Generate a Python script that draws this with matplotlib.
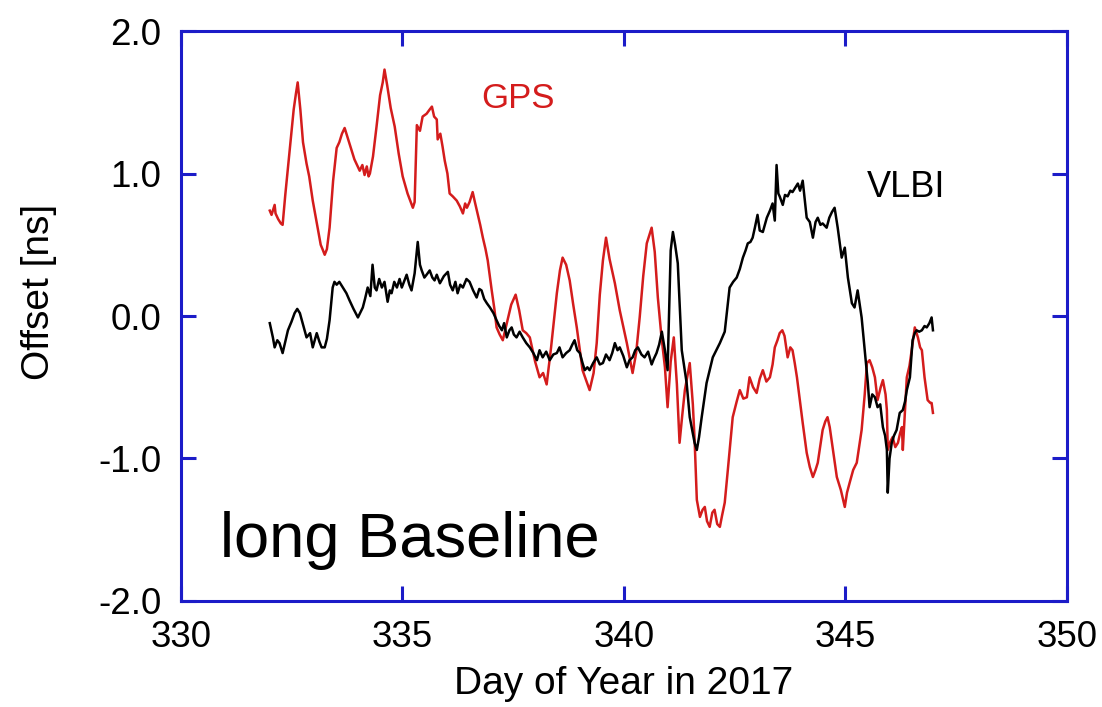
import matplotlib
matplotlib.use("Agg")
import matplotlib.pyplot as plt

# GPS offset (red), day of year vs ns
gps_day = [332.01, 332.05, 332.12, 332.14, 332.20, 332.26, 332.30, 332.36, 332.47, 332.55,
           332.60, 332.64, 332.70, 332.76, 332.84, 332.90, 332.98, 333.08, 333.16, 333.20,
           333.25, 333.30, 333.36, 333.44, 333.52, 333.58, 333.64, 333.70, 333.80, 333.92,
           334.04, 334.10, 334.15, 334.20, 334.24, 334.27, 334.34, 334.42, 334.50, 334.56,
           334.60, 334.66, 334.74, 334.83, 334.92, 335.01, 335.12, 335.24, 335.28, 335.33,
           335.40, 335.46, 335.55, 335.62, 335.67, 335.72, 335.78, 335.80, 335.86, 335.91,
           335.96, 336.02, 336.07, 336.14, 336.23, 336.30, 336.37, 336.42, 336.46, 336.52,
           336.59, 336.64, 336.70, 336.76, 336.82, 336.88, 336.93, 337.02, 337.08, 337.13,
           337.20, 337.27, 337.36, 337.46, 337.56, 337.64, 337.72, 337.80, 337.88, 338.00,
           338.10, 338.18, 338.26, 338.36, 338.49, 338.56, 338.62, 338.70, 338.78, 338.86,
           338.94, 339.07, 339.23, 339.32, 339.39, 339.46, 339.53, 339.60, 339.68, 339.80,
           339.91, 340.07, 340.20, 340.28, 340.36, 340.44, 340.52, 340.63, 340.70, 340.77,
           340.85, 340.93, 340.99, 341.06, 341.13, 341.20, 341.26, 341.32, 341.38, 341.49,
           341.56, 341.60, 341.65, 341.72, 341.78, 341.83, 341.88, 341.94, 342.00, 342.05,
           342.11, 342.17, 342.22, 342.28, 342.35, 342.46, 342.55, 342.62, 342.70, 342.78,
           342.84, 342.92, 343.00, 343.07, 343.14, 343.22, 343.30, 343.36, 343.41, 343.47,
           343.52, 343.58, 343.63, 343.70, 343.76, 343.81, 343.86, 343.91, 344.04, 344.13,
           344.20, 344.27, 344.33, 344.38, 344.49, 344.55, 344.60, 344.65, 344.70, 344.81,
           344.90, 344.99, 345.04, 345.10, 345.18, 345.26, 345.37, 345.44, 345.49, 345.55,
           345.61, 345.67, 345.73, 345.80, 345.85, 345.91, 345.94, 345.96, 346.02, 346.07,
           346.13, 346.19, 346.24, 346.28, 346.30, 346.39, 346.45, 346.50, 346.57, 346.64,
           346.69, 346.73, 346.79, 346.86, 346.92, 346.95, 346.98]
gps_val = [0.74, 0.71, 0.78, 0.72, 0.68, 0.65, 0.64, 0.85, 1.20, 1.45,
           1.56, 1.64, 1.45, 1.22, 1.07, 0.98, 0.81, 0.64, 0.50, 0.47,
           0.43, 0.47, 0.62, 0.95, 1.18, 1.22, 1.28, 1.32, 1.22, 1.10,
           1.02, 1.06, 0.99, 1.05, 0.98, 1.00, 1.12, 1.33, 1.55, 1.64,
           1.73, 1.62, 1.46, 1.33, 1.14, 0.98, 0.86, 0.76, 0.80, 1.34,
           1.30, 1.40, 1.42, 1.45, 1.47, 1.40, 1.38, 1.24, 1.28, 1.19,
           1.09, 1.00, 0.86, 0.84, 0.81, 0.77, 0.72, 0.79, 0.76, 0.80,
           0.87, 0.80, 0.72, 0.64, 0.55, 0.47, 0.39, 0.18, 0.05, -0.08,
           -0.13, -0.17, -0.05, 0.08, 0.15, 0.04, -0.10, -0.12, -0.15, -0.32,
           -0.43, -0.40, -0.48, -0.22, 0.16, 0.32, 0.41, 0.36, 0.25, 0.08,
           -0.08, -0.38, -0.52, -0.40, -0.19, 0.15, 0.39, 0.55, 0.40, 0.23,
           0.04, -0.19, -0.40, -0.26, -0.01, 0.28, 0.51, 0.62, 0.45, 0.13,
           -0.14, -0.36, -0.64, -0.32, -0.15, -0.48, -0.89, -0.70, -0.52, -0.33,
           -0.62, -0.87, -1.29, -1.41, -1.36, -1.34, -1.44, -1.48, -1.38, -1.36,
           -1.46, -1.48, -1.40, -1.31, -1.08, -0.71, -0.60, -0.52, -0.58, -0.57,
           -0.43, -0.50, -0.54, -0.44, -0.38, -0.46, -0.43, -0.34, -0.22, -0.17,
           -0.12, -0.10, -0.14, -0.29, -0.22, -0.24, -0.33, -0.43, -0.75, -0.96,
           -1.06, -1.13, -1.08, -1.03, -0.80, -0.74, -0.71, -0.78, -0.89, -1.13,
           -1.22, -1.34, -1.24, -1.17, -1.08, -1.03, -0.80, -0.55, -0.33, -0.31,
           -0.36, -0.43, -0.59, -0.50, -0.45, -0.55, -0.66, -0.94, -0.88, -0.85,
           -0.92, -0.89, -0.82, -0.78, -0.94, -0.43, -0.35, -0.24, -0.08, -0.15,
           -0.22, -0.24, -0.43, -0.59, -0.61, -0.61, -0.68]

# VLBI offset (black)
vlbi_day = [332.01, 332.08, 332.12, 332.18, 332.23, 332.30, 332.36, 332.42, 332.50, 332.57,
            332.63, 332.69, 332.76, 332.84, 332.92, 332.98, 333.07, 333.13, 333.18, 333.25,
            333.30, 333.36, 333.43, 333.47, 333.52, 333.58, 333.66, 333.74, 333.81, 333.90,
            334.00, 334.11, 334.16, 334.22, 334.28, 334.33, 334.38, 334.42, 334.48, 334.54,
            334.60, 334.67, 334.72, 334.76, 334.82, 334.88, 334.94, 334.99, 335.05, 335.10,
            335.16, 335.21, 335.28, 335.35, 335.40, 335.44, 335.50, 335.55, 335.62, 335.68,
            335.73, 335.78, 335.85, 335.94, 336.03, 336.08, 336.14, 336.20, 336.25, 336.31,
            336.37, 336.45, 336.52, 336.60, 336.68, 336.74, 336.79, 336.85, 336.91, 336.98,
            337.06, 337.13, 337.19, 337.25, 337.30, 337.36, 337.42, 337.47, 337.52, 337.58,
            337.65, 337.72, 337.80, 337.88, 337.96, 338.04, 338.10, 338.17, 338.25, 338.33,
            338.41, 338.49, 338.55, 338.62, 338.70, 338.78, 338.84, 338.89, 338.95, 339.01,
            339.07, 339.12, 339.18, 339.23, 339.31, 339.39, 339.46, 339.53, 339.60, 339.68,
            339.74, 339.80, 339.86, 339.91, 339.99, 340.07, 340.13, 340.20, 340.26, 340.32,
            340.40, 340.47, 340.55, 340.63, 340.68, 340.74, 340.80, 340.86, 340.93, 340.99,
            341.06, 341.11, 341.16, 341.22, 341.31, 341.42, 341.49, 341.60, 341.65, 341.70,
            341.76, 341.87, 342.01, 342.17, 342.28, 342.39, 342.47, 342.55, 342.62, 342.69,
            342.75, 342.80, 342.86, 342.91, 342.96, 343.02, 343.07, 343.14, 343.23, 343.30,
            343.36, 343.41, 343.45, 343.49, 343.52, 343.59, 343.64, 343.70, 343.76, 343.81,
            343.87, 343.93, 343.98, 344.04, 344.13, 344.20, 344.27, 344.33, 344.38, 344.44,
            344.49, 344.58, 344.64, 344.70, 344.76, 344.83, 344.92, 344.99, 345.06, 345.15,
            345.21, 345.28, 345.37, 345.44, 345.51, 345.55, 345.61, 345.67, 345.73, 345.79,
            345.85, 345.90, 345.94, 345.96, 346.00, 346.05, 346.10, 346.16, 346.23, 346.30,
            346.35, 346.39, 346.46, 346.52, 346.57, 346.61, 346.67, 346.73, 346.79, 346.84,
            346.90, 346.95, 346.98]
vlbi_val = [-0.05, -0.15, -0.22, -0.17, -0.19, -0.26, -0.18, -0.10, -0.04, 0.02,
            0.05, 0.02, -0.06, -0.15, -0.12, -0.22, -0.12, -0.18, -0.22, -0.22,
            -0.16, -0.03, 0.20, 0.24, 0.22, 0.24, 0.20, 0.16, 0.11, 0.05,
            -0.01, 0.06, 0.12, 0.20, 0.14, 0.36, 0.20, 0.18, 0.26, 0.20,
            0.24, 0.10, 0.18, 0.16, 0.24, 0.20, 0.26, 0.20, 0.25, 0.29,
            0.22, 0.18, 0.30, 0.52, 0.36, 0.32, 0.27, 0.29, 0.32, 0.27,
            0.25, 0.29, 0.23, 0.28, 0.31, 0.22, 0.18, 0.24, 0.16, 0.22,
            0.20, 0.26, 0.24, 0.18, 0.13, 0.19, 0.18, 0.12, 0.09, 0.06,
            0.02, -0.03, -0.07, -0.10, -0.05, -0.15, -0.10, -0.08, -0.13, -0.15,
            -0.11, -0.15, -0.19, -0.22, -0.26, -0.31, -0.24, -0.29, -0.25, -0.31,
            -0.27, -0.26, -0.22, -0.29, -0.26, -0.24, -0.20, -0.17, -0.24, -0.26,
            -0.33, -0.38, -0.36, -0.38, -0.33, -0.29, -0.34, -0.33, -0.27, -0.31,
            -0.26, -0.19, -0.24, -0.22, -0.28, -0.36, -0.31, -0.29, -0.24, -0.22,
            -0.27, -0.29, -0.25, -0.34, -0.30, -0.26, -0.20, -0.11, -0.24, -0.38,
            0.46, 0.59, 0.50, 0.37, -0.24, -0.47, -0.71, -0.89, -0.94, -0.85,
            -0.71, -0.47, -0.29, -0.19, -0.11, 0.20, 0.24, 0.27, 0.33, 0.41,
            0.46, 0.51, 0.52, 0.55, 0.62, 0.71, 0.60, 0.59, 0.69, 0.74,
            0.79, 0.67, 1.06, 0.86, 0.84, 0.78, 0.85, 0.84, 0.88, 0.87,
            0.90, 0.93, 0.88, 0.95, 0.69, 0.66, 0.55, 0.66, 0.69, 0.64,
            0.65, 0.62, 0.69, 0.73, 0.76, 0.62, 0.41, 0.48, 0.27, 0.09,
            0.06, 0.18, -0.01, -0.24, -0.47, -0.64, -0.55, -0.57, -0.64, -0.62,
            -0.78, -0.84, -0.94, -1.24, -1.00, -0.89, -0.84, -0.80, -0.68, -0.66,
            -0.60, -0.52, -0.43, -0.17, -0.12, -0.10, -0.11, -0.10, -0.07, -0.08,
            -0.05, -0.01, -0.10]

x_ticks = [330, 335, 340, 345, 350]
y_ticks = [-2.0, -1.0, 0.0, 1.0, 2.0]
y_tick_labels = ["-2.0", "-1.0", "0.0", "1.0", "2.0"]

plt.rcParams['font.family'] = ['Liberation Sans', 'DejaVu Sans']

frame_blue = '#1c1cc8'
gps_red = '#d41c1c'

fig = plt.figure(figsize=(11.02, 7.07), dpi=100)
ax = fig.add_axes([0.164, 0.150, 0.804, 0.806])

ax.plot(gps_day, gps_val, color=gps_red, linewidth=1.8)
ax.plot(vlbi_day, vlbi_val, color='black', linewidth=1.8)

ax.set_xlim(330, 350)
ax.set_ylim(-2.0, 2.0)
ax.set_xticks(x_ticks)
ax.set_yticks(y_ticks)
ax.set_yticklabels(y_tick_labels)

for s in ax.spines.values():
    s.set_color(frame_blue)
    s.set_linewidth(2.2)
ax.tick_params(direction='in', length=11, width=2.2, color=frame_blue,
               top=True, right=True, labelsize=26.5, pad=14)

ax.set_xlabel("Day of Year in 2017", fontsize=28)
ax.set_ylabel("Offset [ns]", fontsize=28)
ax.xaxis.set_label_coords(0.5, -0.115)
ax.yaxis.set_label_coords(-0.140, 0.543)

ax.text(337.61, 1.53, "GPS", color=gps_red, fontsize=25, ha='center', va='center')
ax.text(346.37, 0.905, "VLBI", color='black', fontsize=26, ha='center', va='center')
ax.text(330.88, -1.69, "long Baseline", color='black', fontsize=45.5, ha='left', va='baseline')

fig.savefig("out.png", dpi=100)
